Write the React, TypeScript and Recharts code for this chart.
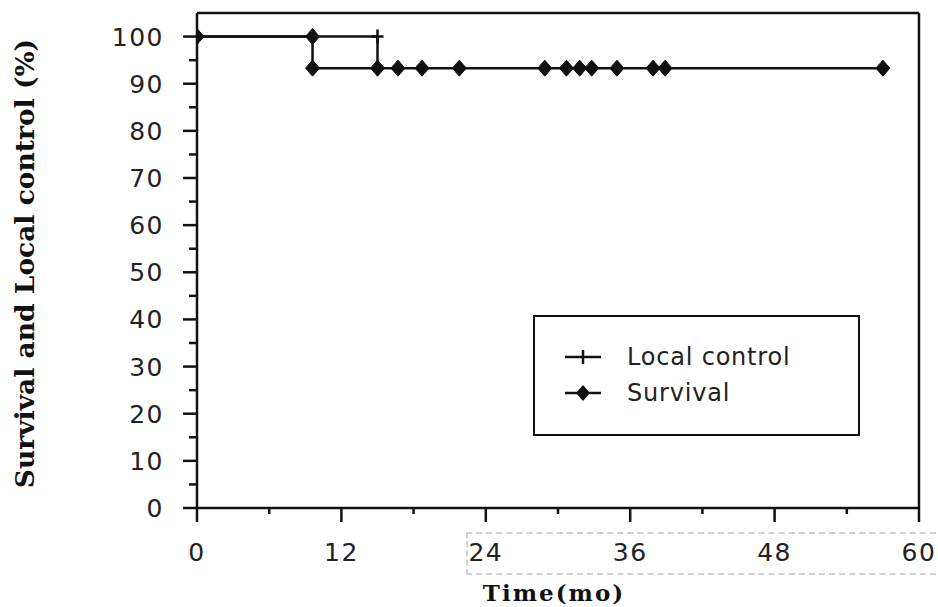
import { LineChart, Line, XAxis, YAxis, ReferenceLine } from 'recharts';

// Kaplan-Meier steps (months, %)
const survivalTimes = [0, 9.6, 9.6, 15, 16.7, 18.7, 21.8, 28.9, 30.7, 31.8, 32.8, 34.9, 37.9, 38.9, 57];
const survivalValues = [100, 100, 93.3, 93.3, 93.3, 93.3, 93.3, 93.3, 93.3, 93.3, 93.3, 93.3, 93.3, 93.3, 93.3];
const localTimes = [0, 15, 15];
const localValues = [100, 100, 93.3];

const xTicks = [0, 6, 12, 18, 24, 30, 36, 42, 48, 54, 60];
const yTicks = [0, 5, 10, 15, 20, 25, 30, 35, 40, 45, 50, 55, 60, 65, 70, 75, 80, 85, 90, 95, 100];

const survival = survivalTimes.map((t, i) => ({ t, v: survivalValues[i] }));
const local = localTimes.map((t, i) => ({ t, v: localValues[i] }));

const INK = '#111';
const TICK_FONT = '"DejaVu Sans", sans-serif';
const LABEL_FONT = '"DejaVu Serif", serif';

function XTick({ x, y, payload }: any) {
  const major = payload.value % 12 === 0;
  return (
    <g>
      <line x1={x} x2={x} y1={y} y2={y + (major ? 14 : 6)} stroke={INK} strokeWidth={2.5} />
      {major && (
        <text x={x} y={y + 53} textAnchor="middle" fontFamily={TICK_FONT} fontSize={25} fill="#222" letterSpacing={1.5}>
          {payload.value}
        </text>
      )}
    </g>
  );
}

function YTick({ x, y, payload }: any) {
  const major = payload.value % 10 === 0;
  return (
    <g>
      <line x1={x} x2={x - (major ? 14 : 8)} y1={y} y2={y} stroke={INK} strokeWidth={2.5} />
      {major && (
        <text x={x - 33} y={y + 9} textAnchor="end" fontFamily={TICK_FONT} fontSize={25} fill="#222" letterSpacing={1.5}>
          {payload.value}
        </text>
      )}
    </g>
  );
}

function Diamond({ cx, cy }: any) {
  if (cx == null || cy == null) return null;
  return <path d={`M${cx},${cy - 8} L${cx + 7},${cy} L${cx},${cy + 8} L${cx - 7},${cy} Z`} fill={INK} stroke={INK} />;
}

function Plus({ cx, cy }: any) {
  if (cx == null || cy == null) return null;
  return <path d={`M${cx - 6},${cy} H${cx + 6} M${cx},${cy - 7} V${cy + 7}`} stroke={INK} strokeWidth={2.5} fill="none" />;
}

function LegendBox() {
  const row = (label: string, marker: 'plus' | 'diamond') => (
    <div style={{ display: 'flex', alignItems: 'center', height: 36 }}>
      <svg width={40} height={20} style={{ marginLeft: 28, marginRight: 24 }}>
        <line x1={2} x2={38} y1={10} y2={10} stroke={INK} strokeWidth={2.5} />
        {marker === 'plus' ? (
          <line x1={20} x2={20} y1={3} y2={17} stroke={INK} strokeWidth={2.5} />
        ) : (
          <path d="M20,2 L27,10 L20,18 L13,10 Z" fill={INK} />
        )}
      </svg>
      <span style={{ fontFamily: TICK_FONT, fontSize: 24, color: '#222', letterSpacing: 0.8 }}>{label}</span>
    </div>
  );
  return (
    <div
      style={{
        position: 'absolute',
        left: 533,
        top: 315,
        width: 327,
        height: 121,
        border: `2.5px solid ${INK}`,
        boxSizing: 'border-box',
        background: '#fff',
        paddingTop: 22,
      }}
    >
      {row('Local control', 'plus')}
      {row('Survival', 'diamond')}
    </div>
  );
}

function YLabel({ viewBox }: any) {
  const cx = 27;
  const cy = viewBox.y + viewBox.height / 2 + 3;
  return (
    <text
      x={cx}
      y={cy}
      transform={`rotate(-90 ${cx} ${cy})`}
      textAnchor="middle"
      dominantBaseline="middle"
      fontFamily={LABEL_FONT}
      fontWeight="bold"
      fontSize={26.5}
      fill="#111"
    >
      Survival and Local control (%)
    </text>
  );
}

function XLabel({ viewBox }: any) {
  return (
    <text
      x={554}
      y={viewBox.y + 93}
      textAnchor="middle"
      fontFamily={LABEL_FONT}
      fontWeight="bold"
      fontSize={23}
      letterSpacing={2}
      fill="#111"
    >
      Time(mo)
    </text>
  );
}

export default function App() {
  return (
    <div style={{ position: 'absolute', left: 0, top: 0, width: 938, height: 607, overflow: 'hidden', background: '#fff' }}>
      <LineChart width={938} height={607} margin={{ top: 13, right: 19, left: 0, bottom: 0 }}>
        <XAxis
          type="number"
          dataKey="t"
          domain={[0, 60]}
          ticks={xTicks}
          interval={0}
          allowDataOverflow
          tickSize={0}
          tickMargin={0}
          tick={<XTick />}
          axisLine={{ stroke: INK, strokeWidth: 2.5 }}
          height={99}
          label={<XLabel />}
        />
        <YAxis
          type="number"
          dataKey="v"
          domain={[0, 105]}
          ticks={yTicks}
          interval={0}
          allowDataOverflow
          tickSize={0}
          tickMargin={0}
          tick={<YTick />}
          axisLine={{ stroke: INK, strokeWidth: 2.5 }}
          width={197}
          label={<YLabel />}
        />
        <ReferenceLine y={105} stroke={INK} strokeWidth={2.5} />
        <ReferenceLine x={60} stroke={INK} strokeWidth={2.5} />
        <Line
          data={survival}
          dataKey="v"
          type="linear"
          stroke={INK}
          strokeWidth={2.5}
          dot={<Diamond />}
          activeDot={false}
          isAnimationActive={false}
        />
        <Line
          data={local}
          dataKey="v"
          type="linear"
          stroke={INK}
          strokeWidth={2.5}
          dot={<Plus />}
          activeDot={false}
          isAnimationActive={false}
        />
      </LineChart>
      <LegendBox />
      <div
        style={{
          position: 'absolute',
          left: 466,
          top: 532,
          width: 480,
          height: 43,
          border: '2px dashed #d0d0d0',
          boxSizing: 'border-box',
          pointerEvents: 'none',
        }}
      />
    </div>
  );
}
